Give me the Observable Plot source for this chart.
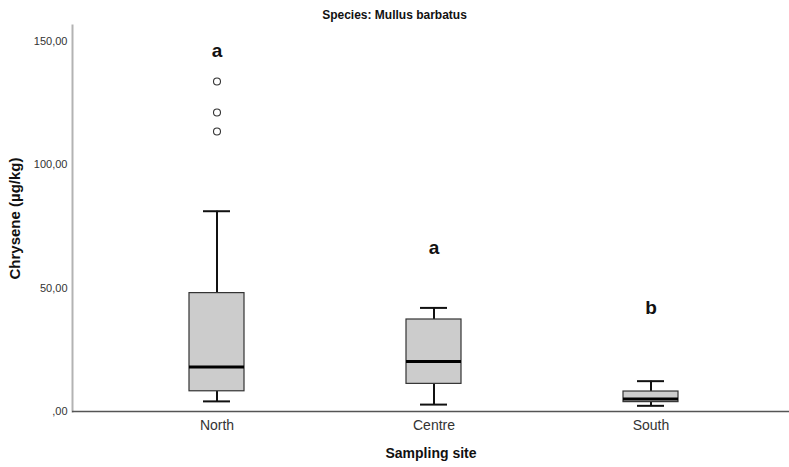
<!DOCTYPE html>
<html>
<head>
<meta charset="utf-8">
<script src="https://cdn.jsdelivr.net/npm/d3@7"></script>
<script src="https://cdn.jsdelivr.net/npm/@observablehq/plot@0.6"></script>
<style>
  body { margin: 0; background: #fff; }
  #wrap { position: relative; width: 789px; height: 467px; }
  #title { position: absolute; top: 8px; left: 0; width: 789px; text-align: center;
           font: bold 12px "Liberation Sans", Arial, sans-serif; line-height: 14px; color: #111; }
</style>
</head>
<body>
<div id="wrap">
  <div id="title">Species: Mullus barbatus</div>
  <div id="chart"></div>
</div>
<script>
const sites = ["North", "Centre", "South"];
const lowerWhisker = [4.1, 2.8, 2.3];
const q1 = [8.2, 11.2, 3.8];
const median = [18.0, 20.3, 5.1];
const q3 = [48.0, 37.3, 8.1];
const upperWhisker = [81.2, 42.0, 12.3];
const outlierSite = ["North", "North", "North"];
const outlierValue = [133.8, 121.2, 113.5];
const letters = ["a", "a", "b"];
const letterY = [146, 66.5, 41.8];
const yTicks = [0, 50, 100, 150];

const boxes = sites.map((s, i) => ({site: s, lo: lowerWhisker[i], q1: q1[i], med: median[i], q3: q3[i], hi: upperWhisker[i], letter: letters[i], ly: letterY[i]}));
const outliers = outlierSite.map((s, i) => ({site: s, v: outlierValue[i]}));

const font = "'Liberation Sans', Arial, sans-serif";
const fmt = d => d === 0 ? ",00" : d.toFixed(2).replace(".", ",");

const chart = Plot.plot({
  width: 789,
  height: 467,
  marginTop: 25,
  marginBottom: 56,
  marginLeft: 72,
  marginRight: 0,
  style: {fontFamily: font, background: "white"},
  x: {type: "band", domain: sites, range: [108, 759], padding: 0},
  y: {domain: [0, 156.5]},
  marks: [
    Plot.frame({anchor: "left", stroke: "#b3b3b3", strokeWidth: 2}),
    Plot.axisY({ticks: yTicks, tickFormat: fmt, tickSize: 0, tickPadding: 5, fontSize: 11, fill: "#333", label: null}),
    Plot.axisX({tickSize: 0, tickPadding: 9, fontSize: 14, fill: "#333", label: null}),
    Plot.ruleX(boxes, {x: "site", y1: "lo", y2: "q1", stroke: "#111", strokeWidth: 2}),
    Plot.ruleX(boxes, {x: "site", y1: "q3", y2: "hi", stroke: "#111", strokeWidth: 2}),
    Plot.tickY(boxes, {x: "site", y: "lo", stroke: "#111", strokeWidth: 2, insetLeft: 95, insetRight: 95}),
    Plot.tickY(boxes, {x: "site", y: "hi", stroke: "#111", strokeWidth: 2, insetLeft: 95, insetRight: 95}),
    Plot.barY(boxes, {x: "site", y1: "q1", y2: "q3", fill: "#cccccc", stroke: "#333", strokeWidth: 1.2, insetLeft: 81, insetRight: 81}),
    Plot.tickY(boxes, {x: "site", y: "med", stroke: "#000", strokeWidth: 3, insetLeft: 81, insetRight: 81}),
    Plot.dot(outliers, {x: "site", y: "v", r: 3.5, stroke: "#333", fill: "white", strokeWidth: 1.1}),
    Plot.text(boxes, {x: "site", y: "ly", text: "letter", fontSize: 19, fontWeight: "bold", fill: "#111"}),
    Plot.ruleY([0], {stroke: "#555", strokeWidth: 1.5}),
    Plot.text(["Chrysene (µg/kg)"], {frameAnchor: "left", textAnchor: "middle", rotate: -90, dx: -57, fontSize: 15, fontWeight: "bold", fill: "#111"}),
    Plot.text(["Sampling site"], {frameAnchor: "bottom", textAnchor: "middle", dy: 46, fontSize: 14, fontWeight: "bold", fill: "#111"})
  ]
});
document.getElementById("chart").appendChild(chart);
</script>
</body>
</html>
